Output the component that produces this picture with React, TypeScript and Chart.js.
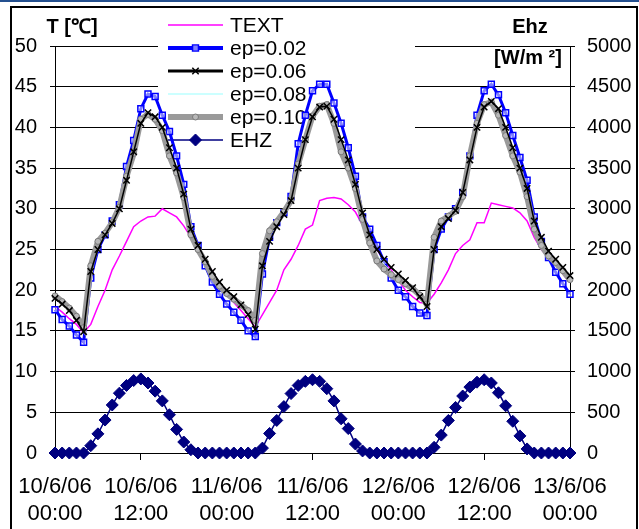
import React, { useEffect, useRef } from 'react';
import { Chart, registerables } from 'chart.js';

Chart.register(...registerables);

// hourly samples, 10/6/06 00:00 .. 13/6/06 00:00 (73 points)
const TICK_LABELS: string[][] = [
  ['10/6/06', '00:00'], ['10/6/06', '12:00'], ['11/6/06', '00:00'], ['11/6/06', '12:00'],
  ['12/6/06', '00:00'], ['12/6/06', '12:00'], ['13/6/06', '00:00'],
];

const TEXT = [
  18.0, 17.3, 16.5, 15.8, 14.8, 15.8, 18.0, 20.0, 22.5, 24.2, 26.0, 27.8, 28.5, 29.0, 29.1, 30.0, 29.5, 29.0, 27.9, 26.5, 25.2, 23.7, 22.3, 20.8, 19.5,
  18.5, 17.5, 16.5, 15.5, 17.0, 18.5, 20.0, 22.5, 23.8, 25.5, 27.5, 28.0, 31.0, 31.3, 31.4, 31.2, 30.5, 29.6, 28.0, 26.5, 25.0, 23.7, 22.5, 21.2,
  20.0, 19.2, 18.5, 18.4, 19.5, 20.9, 22.5, 24.5, 25.5, 26.2, 28.3, 28.3, 30.7, 30.5, 30.3, 30.1, 29.5, 28.5, 26.5, 25.0, 24.0, 23.2, 22.0, 20.9,
];

const EP002 = [
  17.6, 16.4, 15.6, 14.5, 13.6, 21.5, 25.0, 26.8, 28.5, 30.5, 35.2, 38.4, 42.3, 44.1, 43.8, 41.5, 39.5, 36.5, 33.0, 27.8, 25.5, 23.0, 21.0, 19.5, 18.3,
  17.3, 16.3, 15.0, 14.3, 22.0, 26.5, 28.3, 29.5, 31.5, 38.0, 41.5, 44.5, 45.3, 45.3, 43.0, 40.5, 37.5, 34.0, 29.0, 27.5, 25.5, 23.5, 21.5, 20.0,
  19.2, 18.0, 17.2, 16.9, 25.0, 27.5, 29.0, 30.0, 32.0, 36.5, 41.5, 44.5, 45.3, 44.0, 41.8, 39.0, 36.3, 33.5, 29.0, 26.0, 24.0, 22.2, 20.8, 19.5,
];

const EP006 = [
  19.0, 18.3, 17.5, 16.3, 14.9, 22.3, 25.0, 26.8, 28.2, 30.0, 33.5, 37.0, 40.5, 41.8, 41.3, 40.0, 37.5, 35.0, 31.8, 27.5, 25.5, 23.8, 22.3, 21.0, 20.0,
  19.2, 18.2, 17.0, 15.2, 23.0, 26.0, 27.8, 29.3, 31.0, 35.0, 38.5, 41.3, 42.5, 42.6, 41.0, 38.5, 36.0, 33.0, 29.5, 26.8, 25.0, 23.8, 22.8, 22.0,
  21.2, 20.3, 19.2, 18.0, 25.0, 27.8, 28.8, 29.8, 32.0, 36.0, 40.0, 42.5, 43.2, 42.3, 40.0, 37.5, 35.0, 32.5, 28.5, 26.5, 24.8, 23.8, 22.8, 21.8,
];

const EP008 = [
  19.1, 18.4, 17.6, 16.5, 15.1, 22.8, 25.5, 27.0, 28.3, 30.1, 33.8, 37.2, 40.8, 41.7, 41.2, 39.8, 37.0, 34.7, 31.6, 27.2, 25.3, 23.6, 22.0, 20.8, 19.8,
  19.0, 18.2, 17.2, 15.7, 23.7, 26.6, 28.0, 29.4, 31.0, 35.2, 38.5, 41.3, 42.5, 42.7, 40.7, 37.8, 35.5, 32.7, 29.1, 26.3, 24.3, 23.2, 22.3, 21.6,
  21.0, 20.2, 19.3, 18.1, 25.5, 28.0, 29.0, 29.8, 31.8, 36.2, 40.2, 42.6, 43.1, 42.0, 39.5, 37.0, 34.7, 32.0, 28.0, 26.0, 24.5, 23.6, 22.6, 21.5,
];

const EP010 = [
  19.3, 18.6, 17.8, 16.8, 15.4, 23.0, 26.0, 27.0, 28.3, 30.2, 34.0, 36.8, 41.0, 41.6, 41.0, 39.6, 36.5, 34.4, 31.4, 26.8, 25.0, 23.5, 21.7, 20.5, 19.6,
  18.9, 18.2, 17.5, 16.3, 24.5, 27.3, 28.4, 29.6, 31.0, 35.5, 38.5, 41.4, 42.6, 42.8, 40.5, 37.0, 35.0, 32.5, 28.7, 25.8, 23.6, 22.6, 21.9, 21.3,
  20.8, 20.2, 19.4, 18.3, 26.5, 28.5, 29.1, 29.7, 31.5, 36.5, 40.5, 42.8, 43.1, 41.5, 39.0, 36.5, 34.5, 31.5, 27.5, 25.5, 24.2, 23.4, 22.4, 21.3,
];

const EHZ = [
  0, 0, 0, 0, 0, 90, 235, 405, 590, 735, 830, 890, 910, 860, 760, 640, 470, 290, 135, 40, 0, 0, 0, 0, 0,
  0, 0, 0, 0, 60, 240, 400, 570, 730, 830, 880, 900, 880, 790, 640, 420, 300, 110, 25, 0, 0, 0, 0, 0,
  0, 0, 0, 0, 70, 220, 400, 560, 700, 810, 870, 900, 860, 740, 580, 390, 210, 50, 0, 0, 0, 0, 0, 0,
];

const FONT = '"Liberation Sans", Arial, sans-serif';

const toXY = (arr: number[]) => arr.map((v, i) => ({ x: i, y: v }));

function drawMarker(ctx: CanvasRenderingContext2D, style: string, x: number, y: number, r: number, fill: string, stroke: string, lw: number) {
  ctx.save();
  ctx.beginPath();
  ctx.lineWidth = lw;
  ctx.fillStyle = fill;
  ctx.strokeStyle = stroke;
  if (style === 'rect') {
    const s = r * Math.SQRT1_2;
    ctx.rect(x - s, y - s, 2 * s, 2 * s);
    ctx.fill();
    ctx.stroke();
  } else if (style === 'rectRot') {
    ctx.moveTo(x - r, y);
    ctx.lineTo(x, y - r);
    ctx.lineTo(x + r, y);
    ctx.lineTo(x, y + r);
    ctx.closePath();
    ctx.fill();
    ctx.stroke();
  } else if (style === 'crossRot') {
    const s = r * Math.SQRT1_2;
    ctx.moveTo(x - s, y - s);
    ctx.lineTo(x + s, y + s);
    ctx.moveTo(x - s, y + s);
    ctx.lineTo(x + s, y - s);
    ctx.stroke();
  } else if (style === 'circle') {
    ctx.arc(x, y, r, 0, Math.PI * 2);
    ctx.fill();
    ctx.stroke();
  }
  ctx.restore();
}

const decorPlugin = {
  id: 'decor',
  beforeDraw(chart: any) {
    const ctx = chart.ctx as CanvasRenderingContext2D;
    ctx.save();
    ctx.fillStyle = '#ffffff';
    ctx.fillRect(0, 0, chart.width, chart.height);
    ctx.fillStyle = '#24508f';
    ctx.fillRect(0, 0, chart.width, 2);
    ctx.strokeStyle = '#000000';
    ctx.lineWidth = 2;
    ctx.strokeRect(11, 7, 626, 600);
    ctx.restore();
  },
  beforeDatasetsDraw(chart: any) {
    const ctx = chart.ctx as CanvasRenderingContext2D;
    ctx.save();
    ctx.fillStyle = '#ffffff';
    ctx.fillRect(158, 9, 257, 144);
    chart.data.datasets.forEach((ds: any, i: number) => {
      const y = 25 + i * 23;
      ctx.beginPath();
      ctx.strokeStyle = ds.borderColor;
      ctx.lineWidth = ds.legendLineWidth || ds.borderWidth;
      ctx.moveTo(168, y);
      ctx.lineTo(223, y);
      ctx.stroke();
      if (ds.pointRadius > 0) {
        drawMarker(ctx, ds.pointStyle, 195.5, y, ds.pointRadius, ds.pointBackgroundColor, ds.pointBorderColor, ds.pointBorderWidth);
      }
      ctx.fillStyle = '#000';
      ctx.font = `21px ${FONT}`;
      ctx.textBaseline = 'middle';
      ctx.textAlign = 'left';
      ctx.fillText(ds.label, 230, y + 1);
    });
    ctx.restore();
  },
  afterDraw(chart: any) {
    const ctx = chart.ctx as CanvasRenderingContext2D;
    ctx.save();
    ctx.fillStyle = '#000';
    ctx.font = `bold 20px ${FONT}`;
    ctx.textBaseline = 'middle';
    ctx.textAlign = 'center';
    ctx.fillText('T [℃]', 72, 27);
    ctx.fillText('Ehz', 530, 27);
    ctx.fillText('[W/m ²]', 528, 58);
    ctx.restore();
  },
};

export default function App() {
  const ref = useRef<HTMLCanvasElement | null>(null);

  useEffect(() => {
    document.body.style.margin = '0';
    const canvas = ref.current;
    if (!canvas) return;
    const common = { tension: 0, clip: false as any, fill: false };
    const chart = new Chart(canvas, {
      type: 'line',
      data: {
        datasets: [
          { ...common, label: 'TEXT', data: toXY(TEXT), borderColor: '#ff00ff', borderWidth: 1.5, pointRadius: 0, order: 5, yAxisID: 'y' } as any,
          { ...common, label: 'ep=0.02', data: toXY(EP002), borderColor: '#0000ff', borderWidth: 3, legendLineWidth: 4, pointStyle: 'rect', pointRadius: 4.2, pointBackgroundColor: 'rgba(255,255,255,0.5)', pointBorderColor: '#0000ff', pointBorderWidth: 1.5, order: 4, yAxisID: 'y' } as any,
          { ...common, label: 'ep=0.06', data: toXY(EP006), borderColor: '#000000', borderWidth: 1.5, legendLineWidth: 3, pointStyle: 'crossRot', pointRadius: 4.5, pointBackgroundColor: '#000000', pointBorderColor: '#000000', pointBorderWidth: 1.5, order: 1, yAxisID: 'y' } as any,
          { ...common, label: 'ep=0.08', data: toXY(EP008), borderColor: '#ccffff', borderWidth: 1, legendLineWidth: 2, pointRadius: 0, order: 3, yAxisID: 'y' } as any,
          { ...common, label: 'ep=0.10', data: toXY(EP010), borderColor: '#9a9a9a', borderWidth: 6, legendLineWidth: 6, pointStyle: 'circle', pointRadius: 3, pointBackgroundColor: '#b8b8b8', pointBorderColor: '#7a7a7a', pointBorderWidth: 1, order: 2, yAxisID: 'y' } as any,
          { ...common, label: 'EHZ', data: toXY(EHZ), borderColor: '#000080', borderWidth: 1.5, pointStyle: 'rectRot', pointRadius: 6, pointBackgroundColor: '#000080', pointBorderColor: '#000080', pointBorderWidth: 1, order: 0, yAxisID: 'y1' } as any,
        ],
      },
      options: {
        responsive: false,
        animation: false,
        devicePixelRatio: 1,
        layout: { padding: { top: 46, left: 0, right: 0, bottom: 0 } },
        plugins: { legend: { display: false }, tooltip: { enabled: false } },
        scales: {
          x: {
            type: 'linear',
            min: 0,
            max: 72,
            afterFit: (s: any) => { s.height = 76; },
            afterBuildTicks: (s: any) => {
              s.ticks = TICK_LABELS.map((_, i) => ({ value: i * 12 }));
            },
            ticks: {
              callback: (v: any) => TICK_LABELS[Math.round(Number(v) / 12)],
              font: { family: FONT, size: 22, lineHeight: 1.2 },
              color: '#000',
              maxRotation: 0,
              autoSkip: false,
              padding: 14,
            },
            grid: {
              drawOnChartArea: false,
              drawTicks: true,
              tickLength: 7,
              tickColor: (c: any) => (c.tick && c.tick.value % 24 === 12 ? '#000' : 'rgba(0,0,0,0)'),
            },
            border: { display: true, color: '#000', width: 1 },
          },
          y: {
            position: 'left',
            min: 0,
            max: 50,
            afterFit: (s: any) => { s.width = 55; },
            ticks: { stepSize: 5, font: { family: FONT, size: 20 }, color: '#000', padding: 13, callback: (v: any) => String(v) },
            grid: { color: '#000', lineWidth: 1, drawTicks: true, tickLength: 5, tickColor: '#000' },
            border: { display: true, color: '#000', width: 1 },
          },
          y1: {
            position: 'right',
            min: 0,
            max: 5000,
            afterFit: (s: any) => { s.width = 69; },
            ticks: { stepSize: 500, font: { family: FONT, size: 20 }, color: '#000', padding: 12, callback: (v: any) => String(v) },
            grid: { drawOnChartArea: false, drawTicks: true, tickLength: 5, tickColor: '#000' },
            border: { display: true, color: '#000', width: 1 },
          },
        },
      } as any,
      plugins: [decorPlugin],
    });
    return () => chart.destroy();
  }, []);

  return (
    <div style={{ width: 639, height: 529 }}>
      <canvas ref={ref} width={639} height={529} style={{ display: 'block', width: 639, height: 529 }} />
    </div>
  );
}
